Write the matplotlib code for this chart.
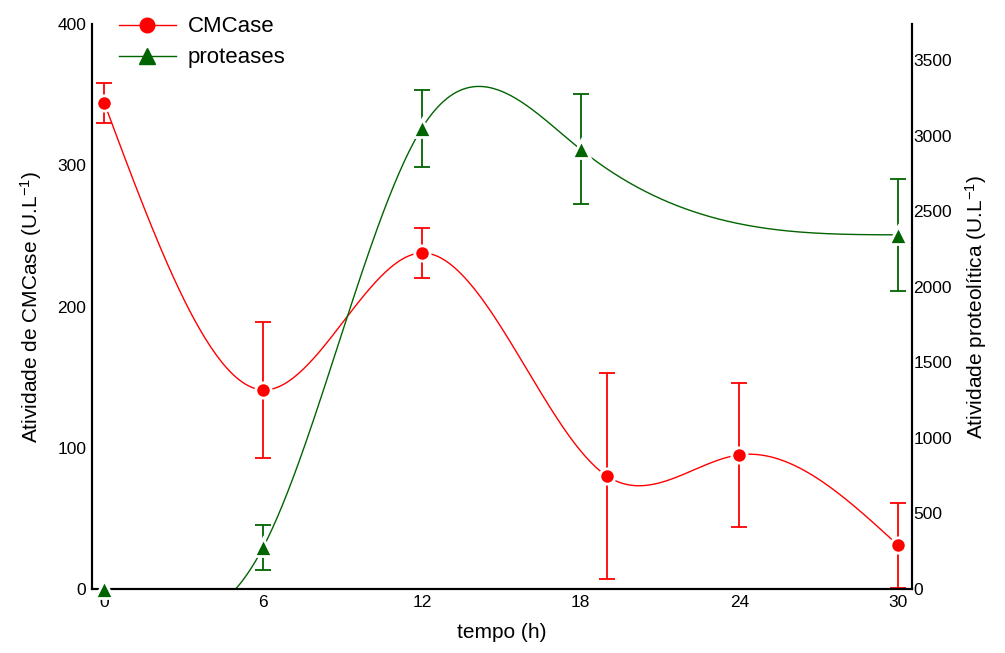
import numpy as np
import matplotlib
matplotlib.use('Agg')
import matplotlib.pyplot as plt
from matplotlib.lines import Line2D

plt.rcParams['font.family'] = ['Liberation Sans', 'DejaVu Sans']
plt.rcParams['mathtext.fontset'] = 'custom'
plt.rcParams['mathtext.rm'] = 'Liberation Sans'
plt.rcParams['mathtext.it'] = 'Liberation Sans'
plt.rcParams['mathtext.bf'] = 'Liberation Sans'

# CMCase (eixo esquerdo)
t_cmc = [0, 6, 12, 19, 24, 30]
cmc = [344, 141, 238, 80, 95, 31]
cmc_err = [14, 48, 18, 73, 51, 30]

# proteases (eixo direito)
t_prot = [0, 6, 12, 18, 30]
prot = [0, 275, 3051, 2911, 2345]
prot_err = [0, 149, 256, 364, 370]

xticks = [0, 6, 12, 18, 24, 30]
red = '#ff0000'
green = '#006400'


def spline(x, y, n=300):
    # spline cubica natural so para desenhar a curva suave
    x = np.asarray(x, float)
    y = np.asarray(y, float)
    k = len(x)
    h = np.diff(x)
    A = np.zeros((k, k))
    b = np.zeros(k)
    A[0, 0] = A[-1, -1] = 1
    for i in range(1, k - 1):
        A[i, i - 1] = h[i - 1]
        A[i, i] = 2 * (h[i - 1] + h[i])
        A[i, i + 1] = h[i]
        b[i] = 6 * ((y[i + 1] - y[i]) / h[i] - (y[i] - y[i - 1]) / h[i - 1])
    M = np.linalg.solve(A, b)
    xs = np.linspace(x[0], x[-1], n)
    j = np.clip(np.searchsorted(x, xs) - 1, 0, k - 2)
    dx1 = x[j + 1] - xs
    dx0 = xs - x[j]
    hj = h[j]
    ys = (M[j] * dx1 ** 3 / (6 * hj) + M[j + 1] * dx0 ** 3 / (6 * hj)
          + (y[j] / hj - M[j] * hj / 6) * dx1 + (y[j + 1] / hj - M[j + 1] * hj / 6) * dx0)
    return xs, ys


fig = plt.figure(figsize=(10.05, 6.53), dpi=100)
ax = fig.add_axes([0.0915, 0.098, 0.816, 0.865])
ax2 = ax.twinx()

xs, ys = spline(t_cmc, cmc)
ax.plot(xs, ys, color=red, lw=1, zorder=1)
ax.errorbar(t_cmc, cmc, yerr=cmc_err, fmt='none', ecolor=red, elinewidth=1.3,
            capsize=6, capthick=1.3, zorder=2)
ax.plot(t_cmc, cmc, 'o', color=red, ms=11, mec='white', mew=2, zorder=3, clip_on=False)

xs, ys = spline(t_prot, prot)
ax2.plot(xs, ys, color=green, lw=1, zorder=1)
ax2.errorbar(t_prot, prot, yerr=prot_err, fmt='none', ecolor=green, elinewidth=1.3,
             capsize=6, capthick=1.3, zorder=2)
ax2.plot(t_prot, prot, '^', color=green, ms=13, mec='white', mew=2, zorder=3, clip_on=False)

ax.set_xlim(-0.47, 30.53)
ax.set_ylim(0, 400)
ax2.set_ylim(0, 3740)
ax.set_xticks(xticks)
ax.set_yticks([0, 100, 200, 300, 400])
ax2.set_yticks([0, 500, 1000, 1500, 2000, 2500, 3000, 3500])

for a in (ax, ax2):
    a.spines['top'].set_visible(False)
    for s in a.spines.values():
        s.set_linewidth(1.5)
ax.tick_params(axis='both', length=0, labelsize=12.5, pad=4)
ax2.tick_params(axis='y', length=0, labelsize=12.5, pad=1)

ax.set_xlabel('tempo (h)', fontsize=15, labelpad=10)
ax.set_ylabel('Atividade de CMCase (U.L$^{-1}$)', fontsize=15, labelpad=10)
ax2.set_ylabel('Atividade proteolítica (U.L$^{-1}$)', fontsize=15, labelpad=8)

handles = [Line2D([], [], color=red, lw=1, marker='o', ms=10.5),
           Line2D([], [], color=green, lw=1, marker='^', ms=12)]
ax2.legend(handles, ['CMCase', 'proteases'], loc='upper left',
           bbox_to_anchor=(0.118, 0.975), bbox_transform=fig.transFigure,
           frameon=False, fontsize=16, handlelength=2.6, handletextpad=0.5,
           labelspacing=0.45, borderpad=0, borderaxespad=0)

fig.savefig('out.png', dpi=100)
